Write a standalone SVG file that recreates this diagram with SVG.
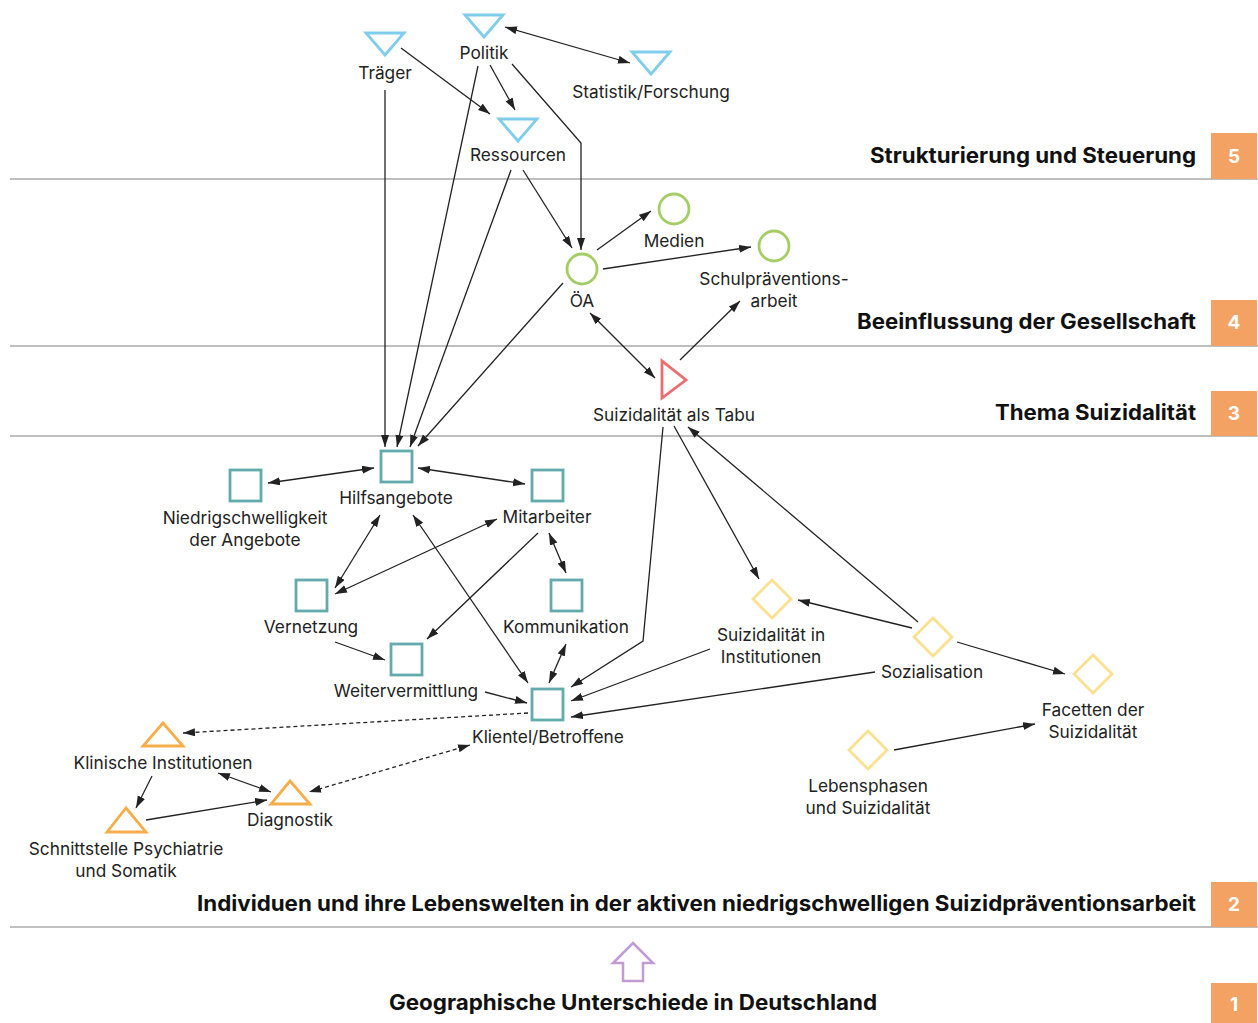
<svg xmlns="http://www.w3.org/2000/svg" width="1258" height="1023" viewBox="0 0 1258 1023">
<defs>
<marker id="ah" markerUnits="userSpaceOnUse" markerWidth="13" markerHeight="9" refX="12" refY="4" orient="auto-start-reverse" viewBox="0 0 13 9">
<path d="M0,0 L12,4 L0,8 z" fill="#222"/>
</marker>
<style>
.lbl{font-family:Inter,"Noto Sans","Liberation Sans",sans-serif;font-size:17.3px;fill:#222;text-anchor:middle}
.band{font-family:Inter,"Noto Sans","Liberation Sans",sans-serif;font-size:21px;font-weight:bold;fill:#111;text-anchor:end}
.num{font-family:Inter,"Noto Sans","Liberation Sans",sans-serif;font-size:19px;font-weight:bold;fill:#fff;text-anchor:middle}
.sep{stroke:#aaa;stroke-width:1.3}
.box{fill:#F4A263}
.blue{fill:none;stroke:#7FCDEB;stroke-width:2.8}
.green{fill:none;stroke:#A5CD66;stroke-width:2.8}
.red{fill:none;stroke:#EE6B6E;stroke-width:2.8}
.teal{fill:none;stroke:#62AAAB;stroke-width:2.8}
.yellow{fill:none;stroke:#FBE18F;stroke-width:2.8}
.orange{fill:none;stroke:#F6AE4B;stroke-width:2.8}
.c{fill:none;stroke:#222;stroke-width:1.3}
.e{marker-end:url(#ah)}
.b{marker-start:url(#ah);marker-end:url(#ah)}
.d{stroke-dasharray:4 3}
</style>
</defs>
<rect width="1258" height="1023" fill="#fff"/>
<g id="bands">
<line class="sep" x1="10" y1="179" x2="1258" y2="179"/>
<line class="sep" x1="10" y1="346" x2="1258" y2="346"/>
<line class="sep" x1="10" y1="436" x2="1258" y2="436"/>
<line class="sep" x1="10" y1="927" x2="1258" y2="927"/>
<text class="band" x="1196" y="163" textLength="326" lengthAdjust="spacingAndGlyphs">Strukturierung und Steuerung</text>
<rect class="box" x="1211" y="133" width="46" height="46"/><text class="num" x="1234" y="163">5</text>
<text class="band" x="1196" y="329" textLength="339" lengthAdjust="spacingAndGlyphs">Beeinflussung der Gesellschaft</text>
<rect class="box" x="1211" y="300" width="46" height="46"/><text class="num" x="1234" y="329">4</text>
<text class="band" x="1196" y="420" textLength="201" lengthAdjust="spacingAndGlyphs">Thema Suizidalität</text>
<rect class="box" x="1211" y="391" width="46" height="45"/><text class="num" x="1234" y="420">3</text>
<text class="band" x="1196" y="911" textLength="999" lengthAdjust="spacingAndGlyphs">Individuen und ihre Lebenswelten in der aktiven niedrigschwelligen Suizidpräventionsarbeit</text>
<rect class="box" x="1211" y="882" width="46" height="45"/><text class="num" x="1234" y="911">2</text>
<text class="band" x="877" y="1010" textLength="488" lengthAdjust="spacingAndGlyphs">Geographische Unterschiede in Deutschland</text>
<rect class="box" x="1211" y="983" width="46" height="40"/><text class="num" x="1234" y="1011">1</text>
<path d="M633,943 L653,963 L643,963 L643,981 L623,981 L623,963 L613,963 Z" fill="none" stroke="#C39BD3" stroke-width="2.5" stroke-linejoin="miter"/>
</g>
<g id="connectors">
<line class="c b" x1="505" y1="27" x2="630" y2="63"/>
<line class="c e" x1="401" y1="48" x2="490" y2="114"/>
<line class="c e" x1="490" y1="65" x2="515" y2="110"/>
<polyline class="c e" points="512,64 581,143 581,250"/>
<line class="c e" x1="385" y1="90" x2="385" y2="447"/>
<line class="c e" x1="478" y1="66" x2="397" y2="447"/>
<line class="c e" x1="511" y1="170" x2="410" y2="447"/>
<line class="c e" x1="563" y1="283" x2="418" y2="446"/>
<line class="c e" x1="523" y1="170" x2="572" y2="248"/>
<line class="c e" x1="597" y1="250" x2="651" y2="211"/>
<line class="c e" x1="603" y1="269" x2="751" y2="247"/>
<line class="c b" x1="590" y1="313" x2="655" y2="378"/>
<line class="c e" x1="680" y1="360" x2="740" y2="301"/>
<polyline class="c e" points="663,427 643,641 571,687"/>
<line class="c e" x1="674" y1="426" x2="759" y2="579"/>
<line class="c e" x1="918" y1="622" x2="688" y2="427"/>
<line class="c e" x1="912" y1="628" x2="798" y2="600"/>
<line class="c e" x1="957" y1="642" x2="1065" y2="674"/>
<line class="c e" x1="894" y1="750" x2="1035" y2="724"/>
<line class="c e" x1="710" y1="649" x2="571" y2="701"/>
<line class="c e" x1="875" y1="672" x2="571" y2="717"/>
<line class="c b" x1="268" y1="483" x2="374" y2="468"/>
<line class="c b" x1="418" y1="468" x2="525" y2="484"/>
<line class="c b" x1="380" y1="515" x2="335" y2="588"/>
<line class="c b" x1="497" y1="519" x2="335" y2="594"/>
<line class="c e" x1="538" y1="533" x2="427" y2="639"/>
<line class="c b" x1="549" y1="533" x2="566" y2="573"/>
<line class="c b" x1="413" y1="515" x2="528" y2="683"/>
<line class="c e" x1="335" y1="642" x2="385" y2="660"/>
<line class="c e" x1="485" y1="692" x2="527" y2="703"/>
<line class="c b" x1="566" y1="644" x2="549" y2="683"/>
<line class="c e d" x1="528" y1="713" x2="183" y2="733"/>
<line class="c b d" x1="470" y1="745" x2="309" y2="792"/>
<line class="c b" x1="218" y1="773" x2="271" y2="792"/>
<line class="c e" x1="152" y1="776" x2="136" y2="808"/>
<line class="c e" x1="146" y1="820" x2="267" y2="800"/>
</g>
<g id="n-politik"><polygon class="blue" points="465,15 503,15 484,37"/><text class="lbl" x="484" y="59">Politik</text></g>
<g id="n-traeger"><polygon class="blue" points="366,33 404,33 385,55"/><text class="lbl" x="385" y="79">Träger</text></g>
<g id="n-statistik"><polygon class="blue" points="632,52 670,52 651,74"/><text class="lbl" x="651" y="98">Statistik/Forschung</text></g>
<g id="n-ressourcen"><polygon class="blue" points="499,119 537,119 518,141"/><text class="lbl" x="518" y="161">Ressourcen</text></g>
<g id="n-medien"><circle class="green" cx="674" cy="209" r="15"/><text class="lbl" x="674" y="247">Medien</text></g>
<g id="n-oea"><circle class="green" cx="582" cy="269" r="15"/><text class="lbl" x="582" y="307">ÖA</text></g>
<g id="n-schul"><circle class="green" cx="774" cy="246" r="15"/><text class="lbl" x="774" y="285">Schulpräventions-</text><text class="lbl" x="774" y="307">arbeit</text></g>
<g id="n-tabu"><polygon class="red" points="662,361 662,398 686,380"/><text class="lbl" x="674" y="421">Suizidalität als Tabu</text></g>
<g id="n-hilfs"><rect class="teal" x="381" y="451" width="31" height="31"/><text class="lbl" x="396" y="504">Hilfsangebote</text></g>
<g id="n-niedrig"><rect class="teal" x="230" y="470" width="31" height="31"/><text class="lbl" x="245" y="524">Niedrigschwelligkeit</text><text class="lbl" x="245" y="546">der Angebote</text></g>
<g id="n-mitarb"><rect class="teal" x="532" y="470" width="31" height="31"/><text class="lbl" x="547" y="523">Mitarbeiter</text></g>
<g id="n-vernetz"><rect class="teal" x="296" y="580" width="31" height="31"/><text class="lbl" x="311" y="633">Vernetzung</text></g>
<g id="n-komm"><rect class="teal" x="551" y="580" width="31" height="31"/><text class="lbl" x="566" y="633">Kommunikation</text></g>
<g id="n-weiter"><rect class="teal" x="391" y="644" width="31" height="31"/><text class="lbl" x="406" y="697">Weitervermittlung</text></g>
<g id="n-klientel"><rect class="teal" x="532" y="689" width="31" height="31"/><text class="lbl" x="548" y="743">Klientel/Betroffene</text></g>
<g id="n-inst"><polygon class="yellow" points="772,580 791,599 772,618 753,599"/><text class="lbl" x="771" y="641">Suizidalität in</text><text class="lbl" x="771" y="663">Institutionen</text></g>
<g id="n-sozial"><polygon class="yellow" points="933,618 952,637 933,656 914,637"/><text class="lbl" x="932" y="678">Sozialisation</text></g>
<g id="n-facetten"><polygon class="yellow" points="1093,655 1112,674 1093,693 1074,674"/><text class="lbl" x="1093" y="716">Facetten der</text><text class="lbl" x="1093" y="738">Suizidalität</text></g>
<g id="n-lebens"><polygon class="yellow" points="868,731 887,750 868,769 849,750"/><text class="lbl" x="868" y="792">Lebensphasen</text><text class="lbl" x="868" y="814">und Suizidalität</text></g>
<g id="n-klinisch"><polygon class="orange" points="163,723 183,746 143,746"/><text class="lbl" x="163" y="769">Klinische Institutionen</text></g>
<g id="n-diagn"><polygon class="orange" points="290,781 310,804 271,804"/><text class="lbl" x="290" y="826">Diagnostik</text></g>
<g id="n-schnitt"><polygon class="orange" points="126,808 146,832 107,832"/><text class="lbl" x="126" y="855">Schnittstelle Psychiatrie</text><text class="lbl" x="126" y="877">und Somatik</text></g>
</svg>
